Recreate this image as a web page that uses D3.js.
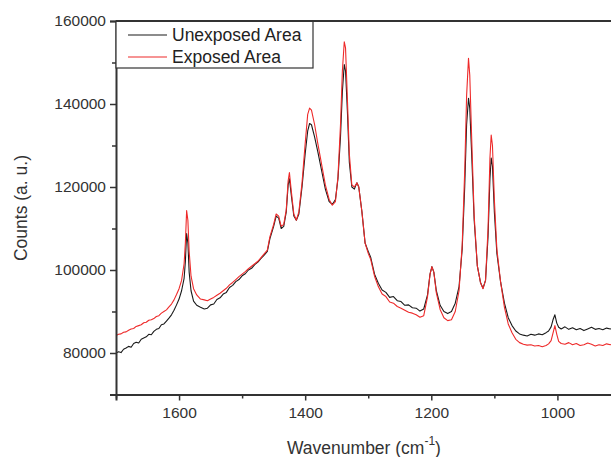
<!DOCTYPE html>
<html><head><meta charset="utf-8">
<script src="https://cdn.jsdelivr.net/npm/d3@7/dist/d3.min.js"></script>
<style>body{margin:0;background:#fff;}svg{display:block;font-family:"Liberation Sans",Arial,sans-serif;}</style>
</head><body><svg id="c" width="611" height="457"></svg>
<script>
// Data: wavenumber (cm^-1) and counts in thousands
const wavenumbers = [
 1700,1696,1692,1688,1684,1680,1676,1672,1668,1664,1660,1656,1652,1648,1644,1640,1636,1632,1628,1624,1620,1616,1612,1608,1604,1600,
 1596,1592,1590,1588,1586,1584,1581,1577,1572,1566,
 1560,1555,1550,1545,1540,1535,1530,1525,1520,1515,1510,1505,1500,1495,1490,1485,1480,1475,1470,1465,
 1460,1456,1450,1446,1442,1438,1434,1430,1427,1425,1422,1418,1414,1410,1405,1400,1396,1393,1390,1385,1380,1374,1368,1362,1357,1352,1348,1344,1341,1338,1336,1333,1330,1326,1322,1318,1315,1310,1305,1300,1296,1290,
 1284,1278,1272,1266,1260,1254,1248,1242,1236,1230,1224,1218,1212,
 1206,1202,1199,1196,1192,1186,1180,1174,1168,1162,1156,1151,1147,1144,1141,1139,1136,1132,1127,1122,1118,1114,1110,1107,1105,1103,1100,1096,1090,1084,
 1078,1072,1066,1060,1054,1048,1042,1036,1030,1024,1018,1014,1010,1007,1004,1001,998,994,988,982,976,970,964,958,952,946,940,934,928,922,916,910,904];
const unexposedK = [
 80.0,80.3,80.1,80.9,81.2,81.6,81.4,82.3,82.6,82.4,83.3,83.6,83.9,84.5,84.4,85.2,85.7,85.9,86.8,87.0,87.7,88.4,89.2,90.3,91.6,93.0,
 95.0,98.0,102.0,108.8,106.5,99.5,95.0,92.5,91.5,91.0,
 90.6,90.8,91.6,91.8,92.9,93.3,94.2,94.6,95.8,96.3,97.2,97.7,98.6,99.1,100.0,100.4,101.3,101.9,102.8,103.6,
 104.5,107.5,110.5,113.0,112.5,110.0,110.5,114.0,120.5,122.0,118.0,113.0,112.0,113.5,120.0,128.0,133.5,135.3,135.0,132.0,128.5,124.0,119.5,116.5,115.8,117.0,122.0,132.0,143.0,149.5,148.0,138.0,126.0,120.0,119.5,121.0,120.0,114.0,106.5,104.5,103.0,99.0,
 96.8,95.2,94.6,93.4,93.6,92.6,92.4,91.5,91.6,90.9,90.8,90.1,90.6,
 94.0,99.0,100.8,99.5,95.0,91.5,90.0,89.5,90.0,92.0,96.0,105.0,120.0,135.0,141.4,139.0,128.0,112.0,101.0,97.0,95.6,97.5,108.0,122.0,127.0,125.0,114.0,104.0,97.0,92.0,
 88.5,86.6,85.3,84.6,84.3,84.1,84.5,84.3,84.6,84.4,84.9,85.3,86.3,88.0,89.2,87.2,86.2,85.8,86.3,85.7,86.1,85.6,85.9,85.4,85.8,86.2,85.7,85.9,85.6,86.0,85.8,86.1,86.0];
const exposedK = [
 84.2,84.5,84.6,85.0,85.1,85.5,85.8,85.9,86.4,86.6,86.8,87.3,87.4,87.9,88.0,88.3,88.8,89.0,89.6,90.0,90.4,91.1,91.8,92.8,94.1,95.5,
 97.5,101.5,106.5,114.3,112.0,104.5,98.5,95.5,94.0,93.0,
 92.8,92.6,93.0,93.4,93.9,94.4,95.0,95.6,96.4,97.0,97.7,98.4,99.0,99.6,100.3,100.9,101.5,102.1,103.0,103.9,
 104.8,108.0,111.0,113.5,113.0,110.5,111.0,114.5,121.5,123.5,119.0,113.5,112.0,114.0,121.0,130.5,137.5,139.0,138.5,135.0,130.5,125.5,120.5,117.0,115.6,116.5,122.5,135.0,148.0,155.0,153.5,141.0,128.0,120.5,120.0,121.0,120.0,114.0,106.5,104.0,102.5,98.5,
 96.0,94.2,93.6,92.3,92.0,91.2,90.8,90.3,89.8,89.6,89.2,88.6,89.0,
 93.5,99.0,100.8,99.5,94.5,90.5,88.5,87.8,88.0,90.0,95.0,106.0,124.0,142.0,151.0,147.0,132.0,113.0,101.0,97.0,95.5,97.5,110.0,127.0,132.5,130.0,117.0,105.0,97.0,91.0,
 87.0,84.9,83.3,82.5,82.1,81.9,82.0,81.7,81.8,81.5,81.8,82.2,83.0,84.8,86.6,84.5,82.8,82.3,82.1,82.5,82.0,82.3,81.8,82.0,82.4,82.1,81.7,82.0,81.8,82.2,82.0,82.3,82.3];
const unexposed = unexposedK.map(v => v * 1000);
const exposed = exposedK.map(v => v * 1000);
const yTicks = [80000,100000,120000,140000,160000];
const yMinor = [90000,110000,130000,150000];
const xTicks = [1600,1400,1200,1000];
const xMinor = [1700,1500,1300,1100];
const seriesNames = ["Unexposed Area","Exposed Area"];
const seriesColors = ["#1a1a1a","#ee2a2a"];
if (wavenumbers.length !== unexposed.length || wavenumbers.length !== exposed.length)
  console.error("length mismatch", wavenumbers.length, unexposed.length, exposed.length);

const svg = d3.select("#c");
const L = 116, T = 21, R = 652, B = 394.5;
const x = d3.scaleLinear().domain([1700, 850]).range([L, R]);
const y = d3.scaleLinear().domain([70000, 160000]).range([B, T]);

svg.append("defs").append("clipPath").attr("id","clip")
  .append("rect").attr("x",L).attr("y",T).attr("width",R-L).attr("height",B-T);

const line = d3.line().x((d,i)=>x(wavenumbers[i])).y(d=>y(d));
const g = svg.append("g").attr("clip-path","url(#clip)");
[unexposed, exposed].forEach((s,i)=>{
  g.append("path").datum(s).attr("d",line).attr("fill","none")
   .attr("stroke",seriesColors[i]).attr("stroke-width",1.1).attr("stroke-linejoin","round");
});

const axisColor = "#333";
// Y axis
const yAxis = svg.append("g").attr("transform",`translate(${L},0)`)
  .call(d3.axisLeft(y).tickValues(yTicks).tickSize(6).tickPadding(4).tickFormat(d3.format("d")));
const yAxisMinor = svg.append("g").attr("transform",`translate(${L},0)`)
  .call(d3.axisLeft(y).tickValues(yMinor).tickSize(4).tickFormat(""));
// X axis
const xAxis = svg.append("g").attr("transform",`translate(0,${B})`)
  .call(d3.axisBottom(x).tickValues(xTicks).tickSize(6).tickPadding(6).tickFormat(d3.format("d")));
const xAxisMinor = svg.append("g").attr("transform",`translate(0,${B})`)
  .call(d3.axisBottom(x).tickValues(xMinor).tickSize(4).tickFormat(""));
[yAxis,yAxisMinor,xAxis,xAxisMinor].forEach(a=>{
  a.select(".domain").attr("stroke",axisColor).attr("stroke-width",2);
  a.selectAll(".tick line").attr("stroke",axisColor).attr("stroke-width",1.5);
  a.selectAll("text").attr("font-size",15.5).attr("fill","#333").attr("font-family","'Liberation Sans',Arial,sans-serif");
});
yAxisMinor.select(".domain").remove(); xAxisMinor.select(".domain").remove();

// Axis titles
svg.append("text").attr("transform","translate(27,208) rotate(-90)").attr("text-anchor","middle")
  .attr("font-size",17.5).attr("fill","#333").text("Counts (a. u.)");
const xt = svg.append("text").attr("x",287).attr("y",454).attr("font-size",17.5).attr("fill","#333");
xt.append("tspan").text("Wavenumber (cm");
xt.append("tspan").attr("dy",-9).attr("font-size",12).text("-1");
xt.append("tspan").attr("dy",9).text(")");

// Legend
svg.append("rect").attr("x",L).attr("y",T).attr("width",197).attr("height",47)
  .attr("fill","#fff").attr("stroke",axisColor).attr("stroke-width",1.2);
seriesNames.forEach((n,i)=>{
  const yy = 35 + i*22;
  svg.append("line").attr("x1",128).attr("x2",167).attr("y1",yy).attr("y2",yy)
    .attr("stroke",seriesColors[i]).attr("stroke-width",1.1);
  svg.append("text").attr("x",172).attr("y",yy+6).attr("font-size",17.5).attr("fill","#222").text(n);
});
// top frame
svg.append("line").attr("x1",L).attr("x2",R).attr("y1",T).attr("y2",T).attr("stroke",axisColor).attr("stroke-width",2);
</script></body></html>
